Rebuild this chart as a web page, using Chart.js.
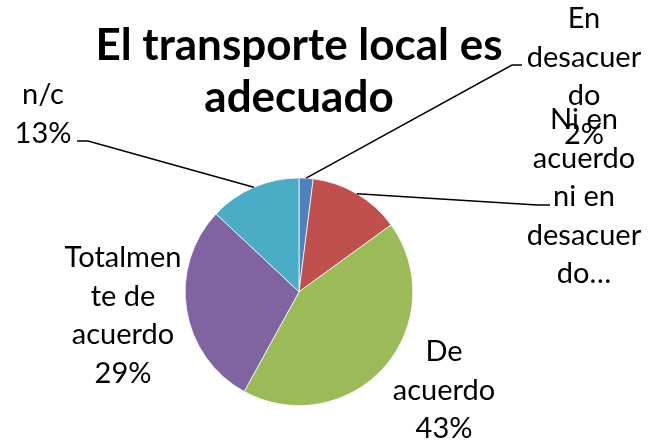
<!DOCTYPE html>
<html>
<head>
<meta charset="utf-8">
<script src="https://cdn.jsdelivr.net/npm/chart.js@4"></script>
<style>
  html, body { margin: 0; padding: 0; background: #fff; }
  #wrap { width: 659px; height: 441px; }
</style>
</head>
<body>
<div id="wrap"><canvas id="myChart" width="659" height="441"></canvas></div>
<script>
// data
const categories = ['En desacuerdo', 'Ni en acuerdo ni en desacuerdo', 'De acuerdo', 'Totalmente de acuerdo', 'n/c'];
const values = [2, 13, 43, 29, 13];
const colors = ['#4F81BD', '#C0504D', '#9BBB59', '#8064A2', '#4BACC6'];
// wrapped label text as it shows in the chart
const wrapped = [
    ['En', 'desacuer', 'do'],
    ['Ni en', 'acuerdo', 'ni en', 'desacuer', 'do…'],
    ['De', 'acuerdo'],
    ['Totalmen', 'te de', 'acuerdo'],
    ['n/c']
];
const showPct = [true, false, true, true, true];

// where each label sits (center x, first line y) and its leader line
const labelPos = [
    { x: 584, y: 19, leader: [[512, 65], [522, 65]] },
    { x: 584, y: 120, leader: [[537, 205], [550, 205]] },
    { x: 444, y: 352, leader: null },
    { x: 123, y: 258, leader: null },
    { x: 43, y: 95, leader: [[88, 141], [77, 141]] }
];
const lineGap = 38.5;
const labelFont = '29px Lato';

const pieLabels = {
    id: 'pieLabels',
    afterDatasetsDraw(chart) {
        const ctx = chart.ctx;
        const meta = chart.getDatasetMeta(0);
        ctx.save();
        meta.data.forEach(function (arc, i) {
            const p = arc.getProps(['x', 'y', 'startAngle', 'endAngle', 'outerRadius'], true);
            const mid = (p.startAngle + p.endAngle) / 2;
            const pos = labelPos[i];
            if (pos.leader) {
                ctx.beginPath();
                ctx.strokeStyle = '#000';
                ctx.lineWidth = 1.5;
                ctx.moveTo(p.x + Math.cos(mid) * p.outerRadius, p.y + Math.sin(mid) * p.outerRadius);
                pos.leader.forEach(function (pt) { ctx.lineTo(pt[0], pt[1]); });
                ctx.stroke();
            }
            let lines = wrapped[i].slice();
            if (showPct[i]) lines.push(values[i] + '%');
            ctx.fillStyle = '#000';
            ctx.font = labelFont;
            ctx.textAlign = 'center';
            ctx.textBaseline = 'middle';
            lines.forEach(function (t, k) {
                ctx.fillText(t, pos.x, pos.y + k * lineGap);
            });
        });
        ctx.restore();
    }
};

const data = {
    labels: categories,
    datasets: [{
        data: values,
        backgroundColor: colors,
        borderColor: '#ffffff',
        borderWidth: 0.75
    }]
};

const config = {
    type: 'pie',
    data: data,
    options: {
        responsive: false,
        animation: false,
        layout: {
            padding: { top: 0, left: 0, right: 61, bottom: 35 }
        },
        plugins: {
            legend: { display: false },
            tooltip: { enabled: false },
            title: {
                display: true,
                text: ['El transporte local es', 'adecuado'],
                color: '#000',
                font: { family: 'Lato', size: 44, weight: 'bold', lineHeight: 1.2 },
                padding: { top: 19, bottom: 53 }
            }
        }
    },
    plugins: [pieLabels]
};

var myChart = new Chart(document.getElementById('myChart'), config);
</script>
</body>
</html>
